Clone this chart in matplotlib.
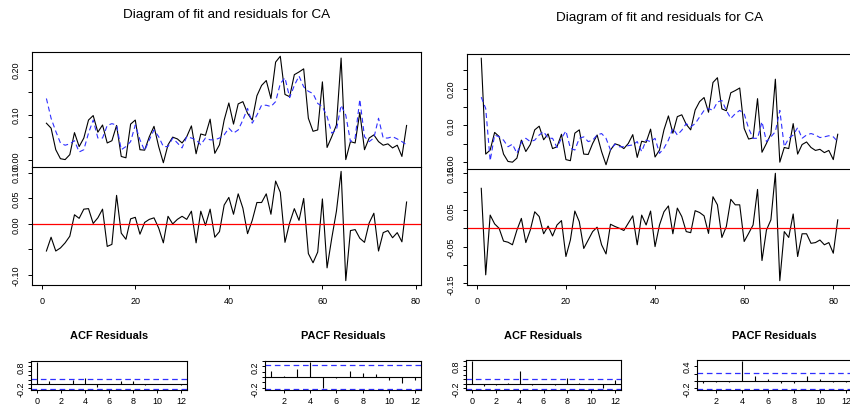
import numpy as np
import matplotlib
matplotlib.use('Agg')
import matplotlib.pyplot as plt

# Шрифт, близкий к Arial
plt.rcParams['font.family'] = ['Liberation Sans', 'DejaVu Sans']

# Ряд CA, короткая выборка (78 наблюдений): факт, подгонка, остатки
ca_actual = [0.081, 0.070, 0.022, 0.002, 0.000, 0.011, 0.060, 0.029, 0.048, 0.088,
             0.098, 0.061, 0.077, 0.037, 0.042, 0.076, 0.007, 0.004, 0.079, 0.088,
             0.022, 0.021, 0.051, 0.074, 0.029, -0.007, 0.033, 0.050, 0.046, 0.037,
             0.051, 0.075, 0.013, 0.057, 0.054, 0.090, 0.014, 0.033, 0.088, 0.126,
             0.079, 0.124, 0.129, 0.103, 0.088, 0.142, 0.165, 0.176, 0.136, 0.217,
             0.230, 0.145, 0.140, 0.189, 0.195, 0.202, 0.092, 0.063, 0.066, 0.173,
             0.027, 0.051, 0.077, 0.226, 0.000, 0.040, 0.037, 0.105, 0.022, 0.048,
             0.055, 0.040, 0.032, 0.035, 0.026, 0.032, 0.007, 0.076]
ca_fitted = [0.136, 0.092, 0.063, 0.037, 0.032, 0.035, 0.042, 0.017, 0.022, 0.059,
             0.088, 0.048, 0.048, 0.076, 0.080, 0.077, 0.022, 0.029, 0.040, 0.077,
             0.044, 0.020, 0.044, 0.066, 0.051, 0.029, 0.029, 0.048, 0.037, 0.026,
             0.051, 0.048, 0.044, 0.033, 0.048, 0.044, 0.044, 0.048, 0.055, 0.070,
             0.059, 0.066, 0.088, 0.114, 0.081, 0.099, 0.121, 0.121, 0.118, 0.129,
             0.169, 0.182, 0.138, 0.165, 0.186, 0.162, 0.152, 0.147, 0.125, 0.118,
             0.096, 0.059, 0.066, 0.121, 0.099, 0.040, 0.048, 0.134, 0.051, 0.040,
             0.048, 0.092, 0.048, 0.048, 0.051, 0.046, 0.040, 0.033]
ca_resid = [-0.053, -0.026, -0.053, -0.047, -0.037, -0.024, 0.018, 0.011, 0.029, 0.030,
            0.001, 0.012, 0.029, -0.044, -0.040, 0.056, -0.018, -0.030, 0.010, 0.013,
            -0.020, 0.003, 0.009, 0.012, -0.008, -0.037, 0.015, 0.000, 0.009, 0.015,
            0.009, 0.025, -0.037, 0.025, -0.003, 0.029, -0.026, -0.015, 0.037, 0.052,
            0.019, 0.059, 0.031, -0.019, 0.007, 0.042, 0.042, 0.059, 0.019, 0.084,
            0.062, -0.036, 0.002, 0.030, 0.007, 0.050, -0.058, -0.076, -0.055, 0.049,
            -0.086, -0.028, 0.025, 0.103, -0.111, -0.013, -0.011, -0.028, -0.036, 0.002,
            0.021, -0.053, -0.017, -0.013, -0.027, -0.017, -0.035, 0.043]

# Длинная выборка (81 наблюдение): три ранних значения + тот же ряд
ca_head = [0.283, 0.022, 0.033]
ca_actual_long = ca_head + ca_actual
ca_fitted_long = [0.177, 0.146, 0.004, 0.074, 0.069, 0.060, 0.042, 0.049, 0.024, 0.054,
                  0.065, 0.056, 0.060, 0.074, 0.083, 0.065, 0.065, 0.040, 0.065, 0.085,
                  0.038, 0.033, 0.065, 0.069, 0.056, 0.060, 0.074, 0.078, 0.065, 0.033,
                  0.049, 0.042, 0.042, 0.045, 0.047, 0.056, 0.029, 0.060, 0.056, 0.065,
                  0.024, 0.038, 0.060, 0.092, 0.074, 0.087, 0.105, 0.096, 0.105, 0.123,
                  0.141, 0.146, 0.141, 0.164, 0.168, 0.141, 0.119, 0.132, 0.141, 0.132,
                  0.092, 0.065, 0.065, 0.110, 0.056, 0.069, 0.083, 0.141, 0.042, 0.065,
                  0.074, 0.094, 0.065, 0.074, 0.078, 0.074, 0.067, 0.069, 0.072, 0.069,
                  0.056]
ca_resid_long = [0.109, -0.127, 0.036, 0.012, 0.000, -0.035, -0.038, -0.045, -0.005, 0.027,
                 -0.039, -0.005, 0.045, 0.032, -0.015, 0.006, -0.021, 0.009, 0.021, -0.077,
                 -0.032, 0.047, 0.018, -0.055, -0.032, -0.009, 0.003, -0.045, -0.070, 0.011,
                 0.005, 0.000, -0.006, 0.014, 0.034, -0.045, 0.036, 0.009, 0.047, -0.050,
                 0.009, 0.045, 0.061, -0.015, 0.055, 0.032, -0.009, -0.012, 0.048, 0.043,
                 0.034, -0.014, 0.086, 0.064, -0.025, 0.005, 0.079, 0.064, 0.064, -0.036,
                 -0.014, 0.009, 0.106, -0.088, -0.005, 0.023, 0.150, -0.143, -0.009, -0.025,
                 0.039, -0.077, -0.015, -0.015, -0.041, -0.039, -0.032, -0.045, -0.039, -0.068,
                 0.023]

# ACF / PACF остатков
acf_lags = list(range(0, 13))
pacf_lags = list(range(1, 13))
acf_short = [1.0, 0.12, 0.02, 0.18, 0.27, -0.15, -0.02, 0.14, 0.15, -0.05, 0.00, 0.01, -0.03]
pacf_short = [0.114, 0.018, 0.150, 0.280, -0.200, -0.018, 0.114, 0.084, 0.054, -0.048, -0.108, -0.048]
acf_long = [1.0, -0.07, -0.03, 0.02, 0.55, -0.04, -0.01, -0.06, 0.28, 0.06, 0.00, -0.17, 0.17]
pacf_long = [-0.06, -0.03, -0.03, 0.54, 0.125, 0.05, -0.05, -0.05, 0.125, 0.05, -0.04, -0.03]

TITLE = 'Diagram of fit and residuals for CA'

W, H = 850, 414
BLUE = '#2f2fff'


def box(x0, x1, y0, y1):
    # прямоугольник в пикселях -> координаты фигуры
    return [x0 / W, 1 - y1 / H, (x1 - x0) / W, (y1 - y0) / H]


def style(ax, size=6.5, pad=5.0, length=3.0):
    for s in ax.spines.values():
        s.set_linewidth(0.8)
        s.set_color('black')
    ax.tick_params(direction='out', length=length, width=0.7, labelsize=size, pad=pad)


def padded(lo, hi, frac=0.04):
    d = (hi - lo) * frac
    return lo - d, hi + d


def yaxis(ax, ticks, labels):
    ax.set_yticks(ticks)
    ax.set_yticklabels(labels, rotation=90, va='center')


def correlogram(ax, lags, vals, n, yt, yl, xt):
    ci = 1.96 / np.sqrt(n)
    ax.vlines(lags, 0, vals, color='black', lw=0.8)
    ax.axhline(0, color='black', lw=0.8)
    for c in (ci, -ci):
        ax.axhline(c, color=BLUE, lw=0.9, ls='--', dashes=(4.5, 3))
    ax.set_xlim(*padded(min(lags), max(lags)))
    ax.set_ylim(*padded(min(min(vals), -ci), max(max(vals), ci)))
    ax.set_xticks(xt)
    yaxis(ax, yt, yl)
    style(ax, size=6.5, pad=1.5, length=2.5)


def draw_block(fig, cx, ty, boxes, actual, fitted, resid, acf, pacf, axes_y):
    n = len(actual)
    t = np.arange(1, n + 1)
    xlim = padded(1, n)

    # заголовок
    fig.text(cx / W, 1 - ty / H, TITLE, ha='center', va='center', fontsize=9.7)

    # факт и подгонка
    ax1 = fig.add_axes(box(*boxes['fit']))
    ax1.plot(t, actual, color='black', lw=0.8)
    ax1.plot(t, fitted, color=BLUE, lw=0.8, ls='--', dashes=(4.5, 3))
    ax1.set_xlim(*xlim)
    vals = list(actual) + list(fitted)
    ax1.set_ylim(*padded(min(vals), max(vals)))
    ax1.set_xticks([])
    yaxis(ax1, *axes_y['fit'])
    style(ax1)
    # общая граница с панелью остатков рисуется один раз
    ax1.spines['bottom'].set_visible(False)

    # остатки
    ax2 = fig.add_axes(box(*boxes['res']))
    ax2.plot(t, resid, color='black', lw=0.8)
    ax2.axhline(0, color='red', lw=0.9)
    ax2.set_xlim(*xlim)
    ax2.set_ylim(*padded(min(resid), max(resid)))
    ax2.set_xticks([0, 20, 40, 60, 80])
    yaxis(ax2, *axes_y['res'])
    style(ax2)

    # ACF и PACF
    ax3 = fig.add_axes(box(*boxes['acf']))
    correlogram(ax3, acf_lags, acf, n, *axes_y['acf'], [0, 2, 4, 6, 8, 10, 12])
    ax4 = fig.add_axes(box(*boxes['pacf']))
    correlogram(ax4, pacf_lags, pacf, n, *axes_y['pacf'], [2, 4, 6, 8, 10, 12])

    for ax, name in ((ax3, 'ACF Residuals'), (ax4, 'PACF Residuals')):
        p = ax.get_position()
        fig.text(p.x0 + p.width / 2, 1 - 336 / H, name, ha='center', va='center',
                 fontsize=7.9, fontweight='bold')


fig = plt.figure(figsize=(8.5, 4.14), dpi=100)
fig.patch.set_facecolor('white')

acf_y = ([-0.2, 0.0, 0.2, 0.4, 0.6, 0.8, 1.0], ['-0.2', '', '', '', '', '0.8', ''])

draw_block(fig, 226.5, 15,
           {'fit': (32, 421, 53, 168), 'res': (32, 421, 168, 286),
            'acf': (31, 187, 362, 391), 'pacf': (265, 421, 362, 391)},
           ca_actual, ca_fitted, ca_resid, acf_short, pacf_short,
           {'fit': ([0.0, 0.05, 0.10, 0.15, 0.20], ['0.00', '', '0.10', '', '0.20']),
            'res': ([-0.10, -0.05, 0.0, 0.05, 0.10], ['-0.10', '', '0.00', '0.05', '0.10']),
            'acf': acf_y,
            'pacf': ([-0.2, -0.1, 0.0, 0.1, 0.2, 0.3], ['-0.2', '', '', '', '0.2', ''])})

draw_block(fig, 660, 18,
           {'fit': (467, 852, 55, 170), 'res': (467, 852, 170, 286),
            'acf': (466, 621, 361, 391), 'pacf': (697, 852, 361, 391)},
           ca_actual_long, ca_fitted_long, ca_resid_long, acf_long, pacf_long,
           {'fit': ([0.0, 0.05, 0.10, 0.15, 0.20, 0.25], ['0.00', '', '0.10', '', '0.20', '']),
            'res': ([-0.15, -0.10, -0.05, 0.0, 0.05, 0.10, 0.15],
                    ['-0.15', '', '-0.05', '', '0.05', '', '0.15']),
            'acf': acf_y,
            'pacf': ([-0.2, 0.0, 0.2, 0.4], ['-0.2', '', '', '0.4'])})

fig.savefig('out.png', dpi=100, facecolor='white')
